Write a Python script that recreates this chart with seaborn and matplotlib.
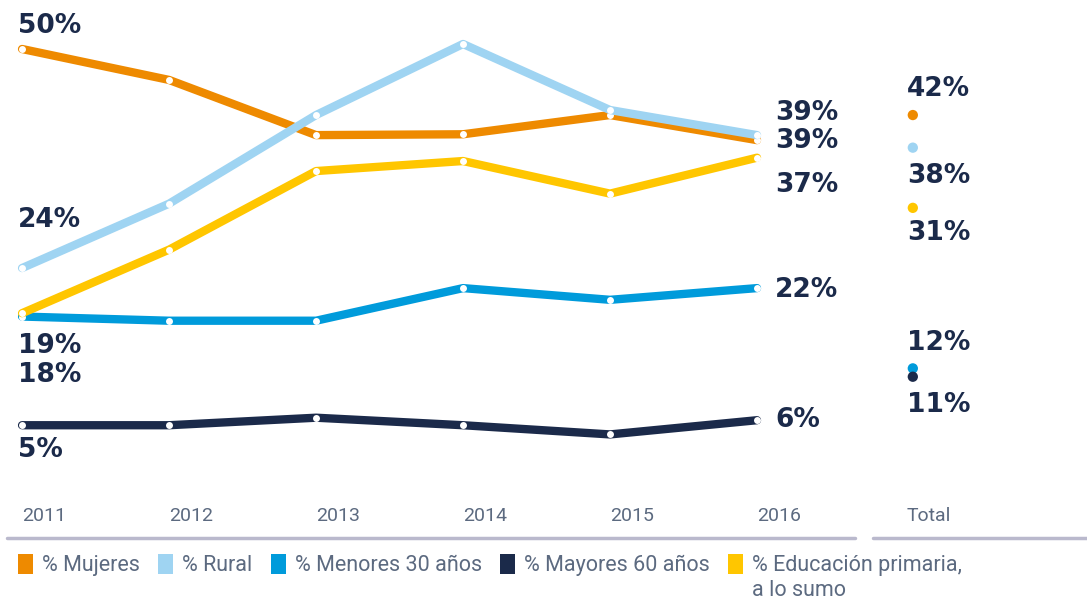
import matplotlib
matplotlib.use('Agg')
import matplotlib.pyplot as plt
from matplotlib.patches import Patch
import numpy as np
import pandas as pd
import seaborn as sns

years = ['2011', '2012', '2013', '2014', '2015', '2016']
series = ['% Mujeres', '% Rural', '% Menores 30 años', '% Mayores 60 años',
          '% Educación primaria,']
legend_extra = 'a lo sumo'
colors = ['#EE8A00', '#9FD4F2', '#009BDB', '#1B2A4A', '#FFC600']

mujeres = [50.0, 46.3, 39.7, 39.8, 42.1, 39.1]
rural = [23.8, 31.5, 42.1, 50.6, 42.7, 39.7]
menores = [18.0, 17.5, 17.5, 21.4, 20.0, 21.4]
mayores = [5.0, 5.0, 5.9, 5.0, 3.9, 5.6]
educacion = [18.4, 26.0, 35.4, 36.6, 32.7, 37.0]

totals = [42.1, 38.2, 11.8, 10.8, 31.0]
total_labels = ['42%', '38%', '12%', '11%', '31%']
start_labels = ['50%', '24%', '19%', '5%', '18%']
end_labels = ['39%', '39%', '22%', '6%', '37%']

values = [mujeres, rural, menores, mayores, educacion]
rows = []
for name, vals in zip(series, values):
    for i, v in enumerate(vals):
        rows.append({'serie': name, 'pos': i, 'value': v})
df = pd.DataFrame(rows)
df_tot = pd.DataFrame({'serie': series, 'pos': 6.06, 'value': totals})

sns.set_theme(style='white')
plt.rcParams['font.family'] = ['Roboto', 'DejaVu Sans']

fig = plt.figure(figsize=(10.87, 6.05), dpi=100)
ax = fig.add_axes([0, 0.1074, 1, 0.8926])
palette = dict(zip(series, colors))

sns.lineplot(data=df, x='pos', y='value', hue='serie', palette=palette,
             hue_order=series, lw=6, marker='o', markersize=5,
             markerfacecolor='white', markeredgewidth=0, legend=False,
             ax=ax)
sns.scatterplot(data=df_tot, x='pos', y='value', hue='serie', palette=palette,
                hue_order=series, s=55, linewidth=0, legend=False, ax=ax)

ax.set_xlim(-0.15, 7.245)
ax.set_ylim(-8.73, 55.86)
for s in ax.spines.values():
    s.set_visible(False)
ax.set_yticks([])
ax.set_xlabel('')
ax.set_ylabel('')
ax.set_xticks(list(range(6)) + [6.02], years + ['Total'], ha='left')
ax.tick_params(axis='x', length=0, pad=-24, labelsize=14, labelcolor='#5C6A80')

# axis lines below the years and below Total
tr = ax.get_xaxis_transform()
ax.plot([-0.1, 5.67], [0.004, 0.004], color='#BAB9CD', lw=2.5, transform=tr, clip_on=False)
ax.plot([5.79, 7.3], [0.004, 0.004], color='#BAB9CD', lw=2.5, transform=tr, clip_on=False)

lab_kw = dict(textcoords='offset points', ha='left', va='center', fontsize=19,
              fontweight='bold', color='#1B2A4A', family='DejaVu Sans')
# offsets in pixels (dx, dy)
start_off = [(-4, 23), (-4, 48), (-4, -29), (-4, -25), (-4, -62)]
end_off = [(18, -1), (18, 22), (18, -2), (18, 0), (18, -27)]
tot_off = [(-6, 26), (-6, -28), (-6, 25), (-6, -28), (-6, -25)]
for k in range(5):
    dx, dy = start_off[k]
    ax.annotate(start_labels[k], (0, values[k][0]), xytext=(dx * 0.72, dy * 0.72), **lab_kw)
    dx, dy = end_off[k]
    ax.annotate(end_labels[k], (5, values[k][5]), xytext=(dx * 0.72, dy * 0.72), **lab_kw)
    dx, dy = tot_off[k]
    ax.annotate(total_labels[k], (6.06, totals[k]), xytext=(dx * 0.72, dy * 0.72), **lab_kw)

handles = [Patch(facecolor=c, edgecolor='none') for c in colors]
leg = fig.legend(handles, series, loc='center left', bbox_to_anchor=(0.0166, 0.066),
                 ncol=5, frameon=False, fontsize=15.5, handlelength=0.7,
                 handleheight=1.07, handletextpad=0.42, columnspacing=0.84,
                 labelcolor='#5C6A80', borderaxespad=0, borderpad=0)

fig.canvas.draw()
bb = leg.get_texts()[-1].get_window_extent()
fig.text(bb.x0 / fig.bbox.width, (bb.y0 - 4) / fig.bbox.height, legend_extra,
         ha='left', va='top', fontsize=15.5, color='#5C6A80')

fig.savefig('out.png', dpi=100)
